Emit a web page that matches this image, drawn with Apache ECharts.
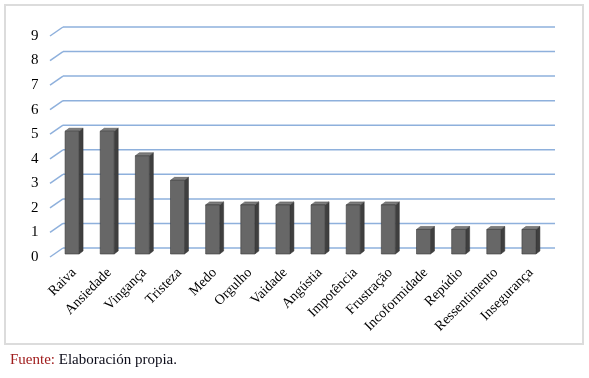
<!DOCTYPE html>
<html>
<head>
<meta charset="utf-8">
<script src="https://cdn.jsdelivr.net/npm/echarts@6/dist/echarts.min.js"></script>
<style>
  html, body { margin: 0; padding: 0; background: #fff; }
  #main { width: 589px; height: 378px; }
</style>
</head>
<body>
<div id="main"></div>
<script>
var categories = ["Raiva", "Ansiedade", "Vingança", "Tristeza", "Medo", "Orgulho", "Vaidade",
  "Angústia", "Impotência", "Frustração", "Incoformidade", "Repúdio", "Ressentimento", "Insegurança"];
var values = [5, 5, 4, 3, 2, 2, 2, 2, 2, 2, 1, 1, 1, 1];
var yTicks = [0, 1, 2, 3, 4, 5, 6, 7, 8, 9];

var chart = echarts.init(document.getElementById("main"));

// 3d depth: back wall is (+dx,-dy) from the middle plane, front is (-dx,+dy)
var dx = 6.5, dy = 4.5;

function renderGrid(params, api) {
  var cs = params.coordSys;
  var y = api.coord([0, api.value(1)])[1];
  var st = { stroke: "#8eb0dc", lineWidth: 1.5 };
  return {
    type: "group",
    children: [
      { type: "line", shape: { x1: cs.x + dx, y1: y - dy, x2: cs.x + cs.width + dx, y2: y - dy }, style: st },
      { type: "line", shape: { x1: cs.x - dx, y1: y + dy, x2: cs.x + dx, y2: y - dy }, style: st },
    ],
  };
}

function renderBar(params, api) {
  var top = api.coord([api.value(0), api.value(1)]);
  var base = api.coord([api.value(0), 0]);
  var hw = 7, d = 2, e = 1.5;
  var fx1 = top[0] - d - hw, fx2 = top[0] - d + hw;
  var bx1 = top[0] + d - hw, bx2 = top[0] + d + hw;
  var ft = top[1] + e, fb = base[1] + e;
  var bt = top[1] - e, bb = base[1] - e;
  return {
    type: "group",
    children: [
      { type: "polygon", shape: { points: [[fx2, ft], [bx2, bt], [bx2, bb], [fx2, fb]] },
        style: { fill: "#3f3f3f", stroke: "#333", lineWidth: 0.5 } },
      { type: "polygon", shape: { points: [[fx1, ft], [bx1, bt], [bx2, bt], [fx2, ft]] },
        style: { fill: "#7d7d7d", stroke: "#444", lineWidth: 0.5 } },
      { type: "rect", shape: { x: fx1, y: ft, width: fx2 - fx1, height: fb - ft },
        style: { fill: "#676767", stroke: "#3a3a3a", lineWidth: 0.6 } },
    ],
  };
}

var option = {
  animation: false,
  title: {
    left: 5,
    top: 348,
    text: "{a|Fuente:}{b| Elaboración propia.}",
    textStyle: {
      rich: {
        a: { color: "#a01c1c", fontFamily: "Liberation Serif", fontSize: 15, fontWeight: "normal" },
        b: { color: "#0d0d1a", fontFamily: "Liberation Serif", fontSize: 15, fontWeight: "normal" },
      },
    },
  },
  graphic: [
    {
      type: "rect",
      shape: { x: 5, y: 5, width: 578, height: 339 },
      style: { fill: null, stroke: "#dcdcdc", lineWidth: 2 },
      silent: true,
    },
  ],
  grid: {
    left: 56.5,
    right: 40.5,
    top: 31.5,
    bottom: 125.5,
  },
  xAxis: {
    type: "category",
    data: categories,
    axisLine: { show: false },
    axisTick: { show: false },
    axisLabel: {
      interval: 0,
      rotate: 45,
      margin: 18,
      color: "#000",
      fontFamily: "Liberation Serif",
      fontSize: 14,
    },
  },
  yAxis: {
    type: "value",
    min: 0,
    max: 9,
    interval: 1,
    splitLine: { show: false },
    axisLine: { show: false },
    axisTick: { show: false },
    axisLabel: {
      margin: 18,
      verticalAlign: "top",
      lineHeight: 9,
      color: "#000",
      fontFamily: "Liberation Serif",
      fontSize: 15,
    },
  },
  series: [
    {
      type: "custom",
      renderItem: renderGrid,
      data: yTicks.map(function (v) { return [0, v]; }),
      z: 1,
      silent: true,
    },
    {
      type: "custom",
      renderItem: renderBar,
      data: values.map(function (v, i) { return [i, v]; }),
      z: 2,
    },
  ],
};
chart.setOption(option);
</script>
</body>
</html>
